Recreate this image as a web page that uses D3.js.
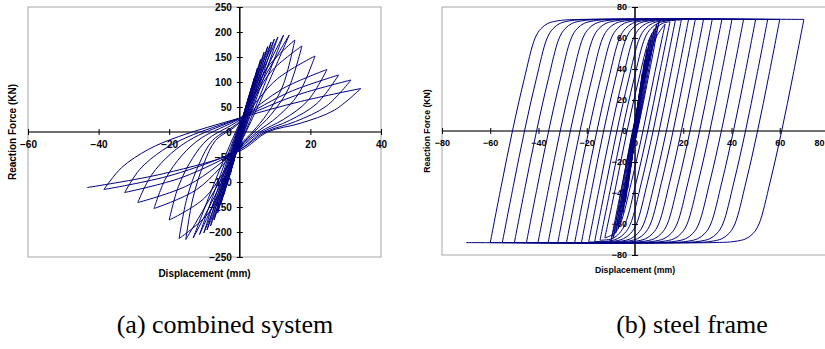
<!DOCTYPE html>
<html>
<head>
<meta charset="utf-8">
<script src="https://cdn.jsdelivr.net/npm/d3@7"></script>
<style>
  body { margin: 0; background: #fff; }
</style>
</head>
<body>
<svg id="chart" width="825" height="349"></svg>
<script>
// ---- (a) combined system: peak of every cycle ----
const combinedPosX = [1, 1.7, 2.5, 3.3, 4.1, 5, 5.9, 6.9, 7.9, 8.9, 9.8, 10.8, 12.4, 14, 15.6, 17.6, 21.3, 24.7, 28, 31.5, 34.3];
const combinedPosF = [25, 44, 65, 88, 108, 128, 145, 160, 171, 180, 186, 190, 194, 194, 184, 172, 152, 125, 114, 104, 87];
const combinedNegX = [-1, -1.8, -2.7, -3.6, -4.5, -5.4, -6.3, -7.3, -8.3, -9.3, -10.2, -11.4, -13.2, -15.3, -17.2, -20, -24.3, -28.9, -32.6, -38.5, -43.2];
const combinedNegF = [-40, -62, -85, -105, -125, -145, -162, -176, -188, -196, -202, -205, -212, -215, -213, -176, -153, -141, -121, -115, -111];
// force where each branch crosses the zero-displacement line (pinching)
const combinedPinchUp = [2, 4, 5, 6, 7, 8, 9, 10, 10, 12, 12, 14, 15, 18, 20, 22, 25, 27, 28, 28, 28];
const combinedPinchDown = [-5, -8, -10, -12, -14, -15, -17, -18, -20, -20, -22, -22, -25, -25, -28, -30, -30, -32, -35, -35, -38];
const bigCycleStart = 14;
// branch shapes of the large cycles, as fractions of the peak they leave / reach
const reloadShape = [[0.87, 0.62], [0.67, 0.3], [0.45, 0.08]];
const loadShape = [[0.5, 0.7]];
const unloadShape = [[0.78, 0.5], [0.5, 0.2], [0.23, 0.0]];
const approachShape = [[0.5, 0.75]];

// ---- (b) steel frame ----
const steelElasticX = [1, 2, 3, 4, 5, 6, 7, 8, 9, 10];
const steelElasticF = [13, 26, 37, 46, 53, 59, 63, 66, 69, 71];
const steelElasticCross = [0, 0.2, 0.3, 0.4, 0.5, 0.6, 0.7, 0.8, 0.9, 1.0];
const steelAmp = [12.5, 14.5, 16.7, 19.2, 22.2, 25, 28.4, 32, 36, 40.2, 45, 50, 55, 60, 70];
const steelPeakF = [69, 70.5, 71.2, 71.6, 72, 72, 72, 72, 72, 72, 72, 72, 72, 72, 72];
// reversal branch: [distance travelled from reversal, force] for a branch starting at -72
const steelBranch = [[0, -72], [4.5, -36], [9.2, 0], [14, 33], [18.6, 60], [21, 66], [24, 69.5], [29, 71.3], [38, 72]];

const combinedXTicks = [-60, -40, -20, 0, 20, 40];
const combinedYTicks = [-250, -200, -150, -100, -50, 0, 50, 100, 150, 200, 250];
const steelXTicks = [-80, -60, -40, -20, 0, 20, 40, 60, 80];
const steelYTicks = [-80, -60, -40, -20, 0, 20, 40, 60, 80];

const svg = d3.select("#chart");
svg.append("rect").attr("width", 825).attr("height", 349).attr("fill", "#fff");

const lineColor = "#000080";
const sans = "'Liberation Sans', Arial, sans-serif";

function drawPanel(cfg) {
  const x = d3.scaleLinear().domain(cfg.xDomain).range([cfg.left, cfg.right]);
  const y = d3.scaleLinear().domain(cfg.yDomain).range([cfg.bottom, cfg.top]);
  const g = svg.append("g");

  g.append("rect")
    .attr("x", cfg.left).attr("y", cfg.top)
    .attr("width", cfg.right - cfg.left).attr("height", cfg.bottom - cfg.top)
    .attr("fill", "none").attr("stroke", "#a6a6a6").attr("stroke-width", 1);

  // axes cross at the origin
  g.append("line")
    .attr("x1", cfg.left).attr("x2", cfg.right)
    .attr("y1", y(0)).attr("y2", y(0))
    .attr("stroke", "#404040").attr("stroke-width", 1.5);
  g.append("line")
    .attr("x1", x(0)).attr("x2", x(0))
    .attr("y1", cfg.top).attr("y2", cfg.bottom)
    .attr("stroke", "#000").attr("stroke-width", 1.5);

  g.append("g")
    .attr("transform", `translate(0,${y(0)})`)
    .call(d3.axisBottom(x).tickValues(cfg.xTicks).tickSize(3).tickPadding(6))
    .call(a => {
      a.select(".domain").remove();
      a.selectAll(".tick line").attr("y1", -3).attr("stroke", "#000");
      a.attr("font-family", sans).attr("font-size", cfg.tickFont).attr("font-weight", "bold");
      a.selectAll("text").attr("fill", "#000");
      // keep a label that would run past the page edge fully visible
      a.selectAll(".tick").each(function (d) {
        if (x(d) + 8 > 825) {
          d3.select(this).select("text").attr("text-anchor", "end").attr("x", 824 - x(d));
        }
      });
    });

  g.append("g")
    .attr("transform", `translate(${x(0)},0)`)
    .call(d3.axisLeft(y).tickValues(cfg.yTicks).tickSize(3).tickPadding(5))
    .call(a => {
      a.select(".domain").remove();
      a.selectAll(".tick line").attr("x1", 3).attr("stroke", "#000");
      a.attr("font-family", sans).attr("font-size", cfg.tickFont).attr("font-weight", "bold");
      a.selectAll("text").attr("fill", "#000");
    });

  g.append("text")
    .attr("x", (cfg.left + cfg.right) / 2).attr("y", cfg.xTitleY)
    .attr("text-anchor", "middle")
    .attr("font-family", sans).attr("font-size", cfg.titleFont).attr("font-weight", "bold")
    .text("Displacement (mm)");

  g.append("text")
    .attr("transform", `translate(${cfg.yTitleX},${(cfg.top + cfg.bottom) / 2}) rotate(-90)`)
    .attr("text-anchor", "middle")
    .attr("font-family", sans).attr("font-size", cfg.titleFont).attr("font-weight", "bold")
    .text("Reaction Force (KN)");

  const line = d3.line()
    .x(d => x(d[0])).y(d => y(d[1]))
    .curve(d3.curveCatmullRom.alpha(0.5));

  g.append("g")
    .selectAll("path")
    .data(cfg.branches)
    .join("path")
    .attr("d", line)
    .attr("fill", "none")
    .attr("stroke", lineColor)
    .attr("stroke-width", 1)
    .attr("stroke-linejoin", "round");
}

// build the combined-system branches from the peaks
const combinedBranches = [];
let prev = [0, 0];
combinedPosX.forEach((px, i) => {
  const pos = [px, combinedPosF[i]];
  const neg = [combinedNegX[i], combinedNegF[i]];
  if (i < bigCycleStart) {
    combinedBranches.push(i === 0 ? [prev, pos] : [prev, [0, combinedPinchUp[i]], pos]);
    combinedBranches.push([pos, [0, combinedPinchDown[i]], neg]);
  } else {
    const up = [prev];
    reloadShape.forEach(([fx, ff]) => up.push([prev[0] * fx, prev[1] * ff]));
    up.push([0, combinedPinchUp[i]]);
    loadShape.forEach(([fx, ff]) => up.push([pos[0] * fx, pos[1] * ff]));
    up.push(pos);
    combinedBranches.push(up);

    const down = [pos];
    unloadShape.forEach(([fx, ff]) => down.push([pos[0] * fx, pos[1] * ff]));
    down.push([0, combinedPinchDown[i]]);
    approachShape.forEach(([fx, ff]) => down.push([neg[0] * fx, neg[1] * ff]));
    down.push(neg);
    combinedBranches.push(down);
  }
  prev = neg;
});

// build the steel-frame branches
function plasticBranch(from, to, dir) {
  const pts = [from];
  const span = Math.abs(to[0] - from[0]);
  steelBranch.slice(1).forEach(([dx, f]) => {
    if (dx < span - 1.5) pts.push([from[0] + dir * dx, dir * f]);
  });
  pts.push(to);
  return pts;
}

const steelBranches = [];
let sp = [0, 0];
steelElasticX.forEach((a, i) => {
  const pos = [a, steelElasticF[i]];
  const neg = [-a, -steelElasticF[i]];
  steelBranches.push(i === 0 ? [sp, pos] : [sp, [-steelElasticCross[i], 0], pos]);
  steelBranches.push([pos, [steelElasticCross[i], 0], neg]);
  sp = neg;
});
steelAmp.forEach((a, i) => {
  const pos = [a, steelPeakF[i]];
  const neg = [-a, -steelPeakF[i]];
  steelBranches.push(plasticBranch(sp, pos, 1));
  steelBranches.push(plasticBranch(pos, neg, -1));
  sp = neg;
});

drawPanel({
  left: 28, right: 381, top: 7, bottom: 257,
  xDomain: [-60, 40], yDomain: [-250, 250],
  xTicks: combinedXTicks, yTicks: combinedYTicks,
  tickFont: 10, titleFont: 10,
  xTitleY: 277, yTitleX: 16,
  branches: combinedBranches
});

drawPanel({
  left: 442, right: 828, top: 7, bottom: 255,
  xDomain: [-80, 80], yDomain: [-80, 80],
  xTicks: steelXTicks, yTicks: steelYTicks,
  tickFont: 9, titleFont: 8.7,
  xTitleY: 273, yTitleX: 430,
  branches: steelBranches
});

// captions
const serif = "'Liberation Serif', 'Times New Roman', serif";
svg.append("text").attr("x", 225).attr("y", 333).attr("text-anchor", "middle")
  .attr("font-family", serif).attr("font-size", 26).text("(a) combined system");
svg.append("text").attr("x", 692).attr("y", 333).attr("text-anchor", "middle")
  .attr("font-family", serif).attr("font-size", 26).text("(b) steel frame");
</script>
</body>
</html>
